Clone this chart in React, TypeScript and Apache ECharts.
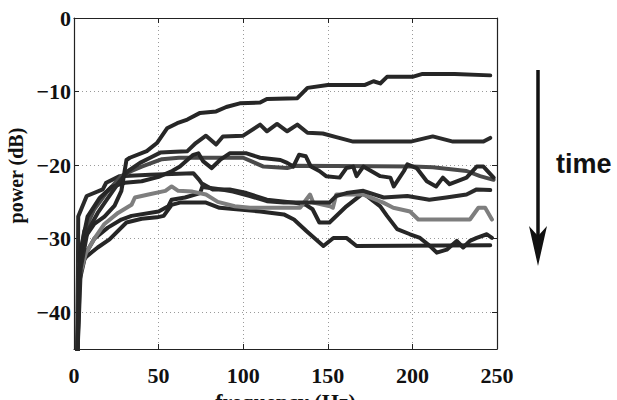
import { useEffect, useRef } from 'react';
import * as echarts from 'echarts';

const xTicks = [0, 50, 100, 150, 200, 250];
const yTicks = [-40, -30, -20, -10, 0];

type P = [number, number];

const lineA: P[] = [[2, -46], [3, -34], [6, -30], [12, -28], [18, -27], [24, -25.5], [28, -23.5], [31, -19.3], [33, -19], [43, -18.1], [49, -17], [55, -15], [61, -14.3], [67, -13.8], [74.5, -12.9], [84, -12.7], [90, -12.1], [98, -11.6], [110, -11.5], [114, -11], [132, -10.9], [138, -9.5], [150, -9.1], [172, -9.1], [177, -8.6], [181, -8.9], [185, -8], [200, -8], [206, -7.6], [225, -7.6], [246, -7.8]];
const lineB: P[] = [[2, -46], [4, -34], [8, -29], [14, -26.5], [20, -24.5], [26, -22.5], [32, -20.8], [39, -19.7], [45, -19], [51, -18.3], [60, -18.2], [67, -18.1], [72, -17], [75, -16.5], [78, -16], [84, -17.2], [88, -16.1], [100, -16], [110, -14.5], [114, -15.4], [120, -14.4], [126, -15.4], [132, -14.5], [138, -15.6], [147, -15.7], [155, -16.2], [165, -16.8], [199, -16.8], [212, -16.1], [224, -16.8], [242, -16.8], [246, -16.3]];
const lineC: P[] = [[2, -46], [3.5, -32], [8, -27], [15, -24.5], [22, -23], [30, -22.4], [40, -22.2], [50, -21.6], [58, -20.8], [62.6, -20.2], [70.5, -18.6], [73.5, -18.4], [76.4, -19.5], [81.4, -20.4], [86.3, -19.3], [92, -18.4], [102, -18.4], [110, -19], [122, -19.3], [126, -19.7], [129.6, -20.2], [133, -18.6], [137, -18.8], [140, -20.2], [145, -20.8], [149, -21.5], [157, -21.7], [161, -20.4], [165, -20.2], [167, -21.5], [171, -20.2], [181, -21.5], [187, -21.7], [189, -22.9], [195, -20.8], [197, -19.9], [202.5, -20.4], [208.5, -22.2], [214, -22.9], [218, -21.7], [222, -22.6], [232, -21.7], [238, -20.2], [242, -20.2], [248, -21.7]];
const lineD: P[] = [[2, -46], [3, -34], [6, -29], [12, -26], [20, -23.5], [28, -21.5], [34, -20.8], [40, -20.2], [46, -19.7], [52, -19.2], [62, -19], [100, -19], [106, -19.6], [112, -20.2], [126, -20.4], [131, -20.1], [200, -20.2], [212, -20.3], [232, -20.8], [240, -21.5], [248, -22]];
const lineE: P[] = [[2, -46], [2.5, -27], [7.5, -24.2], [17, -23.3], [19, -22.4], [27, -21.5], [45, -21.3], [70.5, -21.1], [74, -22], [77, -23], [84, -23.2], [94, -23.6], [104, -24.2], [114, -24.9], [124, -25.1], [151, -25.1], [155, -24.2], [161, -23.8], [171, -23.5], [183, -24.4], [197, -24.2], [210, -24.7], [220, -24.4], [232, -24], [238, -23.3], [246, -23.4]];
const lineF: P[] = [[2, -46], [3.5, -35], [7, -32], [12, -30], [18, -28], [26, -26.5], [34, -25.4], [36, -24.4], [44, -24], [54, -23.5], [57.7, -22.9], [61.6, -23.5], [70, -23.6], [78, -24], [85, -25], [95, -25.6], [104, -25.8], [133.6, -25.8], [139.5, -24], [141.4, -25.1], [151.3, -25.6], [153, -25.8], [155, -24], [171, -24], [182.8, -25.1], [188.7, -25.8], [198.6, -26.3], [203.5, -27.4], [234, -27.4], [239, -25.8], [243, -25.8], [247, -27.4]];
const lineG: P[] = [[2, -46], [3, -36], [7, -32], [12, -30], [20, -28.5], [28, -27.4], [34, -26.9], [50, -26.3], [55.7, -25.6], [57.7, -24.7], [65.6, -24.4], [74.5, -23.8], [76.4, -22.6], [82, -23.3], [92, -23.3], [102, -23.8], [114, -24.7], [130, -25.1], [137, -25.4], [141, -26], [145, -27.8], [151, -27.8], [161, -25.6], [171, -23.8], [177, -24.9], [181, -25.6], [185, -26.9], [191, -28.7], [198.6, -29.4], [204.5, -29.9], [210.4, -31], [214.4, -31.9], [220.3, -31.5], [226.2, -30.3], [230, -31.2], [234, -30.3], [238, -29.9], [244, -29.4], [247, -29.9]];
const lineH: P[] = [[2, -46], [2.4, -33.7], [7.5, -32.4], [14, -31.2], [21, -30.1], [31, -27.8], [40, -27.3], [49, -27.1], [53, -26.9], [57.7, -25.4], [62.6, -25.1], [78, -25.1], [86, -25.8], [96, -26], [110, -26.3], [124, -26.7], [130, -27.4], [137.5, -29], [147.4, -31], [153.3, -29.9], [161, -29.9], [167, -31], [246, -30.9]];

const seriesList: { data: P[]; color: string }[] = [
  { data: lineH, color: '#262626' },
  { data: lineG, color: '#262626' },
  { data: lineF, color: '#7e7e7e' },
  { data: lineE, color: '#2a2a2a' },
  { data: lineD, color: '#4a4a4a' },
  { data: lineC, color: '#262626' },
  { data: lineB, color: '#2a2a2a' },
  { data: lineA, color: '#262626' },
];

const serif = 'Liberation Serif';
const fmtY = (v: number) => (v === 0 ? '0' : '\u2212' + Math.abs(v));

export default function App() {
  const ref = useRef<HTMLDivElement>(null);
  useEffect(() => {
    const chart = echarts.init(ref.current!, null, { renderer: 'svg' });
    const tickStyle = { show: true, inside: true, length: 5, lineStyle: { color: '#222', width: 1 } };
    chart.setOption({
      animation: false,
      backgroundColor: '#fff',
      grid: { left: 74, right: 120, top: 18, bottom: 51, containLabel: false, outerBoundsMode: 'none' },
      xAxis: [
        {
          type: 'value', min: 0, max: 250, interval: 50, position: 'bottom',
          axisLine: { show: true, onZero: false, lineStyle: { color: '#222', width: 1.2 } },
          axisTick: { ...tickStyle, customValues: xTicks },
          axisLabel: { customValues: xTicks, margin: 15, fontFamily: serif, fontWeight: 'bold', fontSize: 22, color: '#111' },
          splitLine: { show: true, lineStyle: { color: '#9a9a9a', type: [1, 3], width: 1 } },
          name: 'frequency (Hz)', nameLocation: 'middle', nameGap: 28,
          nameTextStyle: { fontFamily: serif, fontWeight: 'bold', fontSize: 22, color: '#111' },
        },
        {
          type: 'value', min: 0, max: 250, interval: 50, position: 'top',
          axisLine: { show: true, onZero: false, lineStyle: { color: '#222', width: 1.2 } },
          axisTick: tickStyle, axisLabel: { show: false }, splitLine: { show: false },
        },
      ],
      yAxis: [
        {
          type: 'value', min: -45, max: 0, position: 'left',
          axisLine: { show: true, onZero: false, lineStyle: { color: '#222', width: 1.2 } },
          axisTick: { ...tickStyle, customValues: yTicks },
          axisLabel: { customValues: yTicks, formatter: fmtY, margin: 3, fontFamily: serif, fontWeight: 'bold', fontSize: 22, color: '#111' },
          splitLine: { show: true, lineStyle: { color: '#9a9a9a', type: [1, 3], width: 1 } },
          name: 'power (dB)', nameLocation: 'middle', nameGap: 40, nameRotate: 90,
          nameTextStyle: { fontFamily: serif, fontWeight: 'bold', fontSize: 20, color: '#111', padding: [0, 0, 0, 16] },
        },
        {
          type: 'value', min: -45, max: 0, position: 'right',
          axisLine: { show: true, onZero: false, lineStyle: { color: '#222', width: 1.2 } },
          axisTick: { ...tickStyle, customValues: yTicks },
          axisLabel: { show: false }, splitLine: { show: false },
        },
      ],
      series: seriesList.map((s) => ({
        type: 'line',
        xAxisIndex: 0,
        yAxisIndex: 0,
        data: s.data,
        showSymbol: false,
        symbol: 'none',
        clip: true,
        lineStyle: { color: s.color, width: 4, join: 'round', cap: 'round' },
        itemStyle: { color: s.color },
      })),
      graphic: [
        { type: 'line', shape: { x1: 538, y1: 70, x2: 538, y2: 236 }, style: { stroke: '#111', lineWidth: 3.5 } },
        { type: 'polygon', shape: { points: [[529, 226], [538, 236], [547, 226], [538, 266]] }, style: { fill: '#111' } },
        {
          type: 'text', x: 556, y: 164,
          style: { text: 'time', fontFamily: 'Liberation Sans', fontWeight: 'bold', fontSize: 27, fill: '#111', verticalAlign: 'middle' },
        },
      ],
    });
    return () => chart.dispose();
  }, []);
  return <div ref={ref} style={{ position: 'fixed', left: 0, top: 0, width: 617, height: 400, background: '#fff' }} />;
}
